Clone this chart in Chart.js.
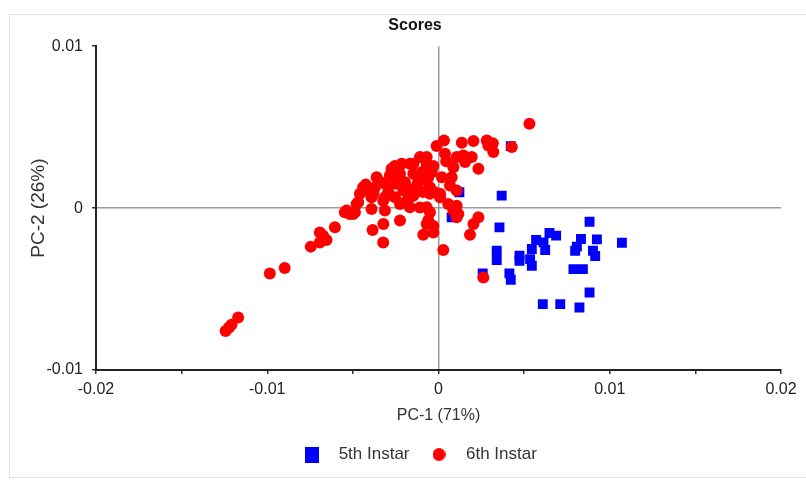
<!DOCTYPE html>
<html>
<head>
<meta charset="utf-8">
<script src="https://cdn.jsdelivr.net/npm/chart.js@4.4.1/dist/chart.umd.min.js"></script>
<style>
  html, body { margin: 0; padding: 0; background: #fff; }
  #wrap { position: relative; width: 806px; height: 481px; overflow: hidden; }
  #frame { position: absolute; left: 9px; top: 14px; width: 820px; height: 462px; border: 1px solid #e4e4e4; }
  canvas { position: absolute; left: 0; top: 0; }
</style>
</head>
<body>
<div id="wrap">
  <div id="frame"></div>
  <canvas id="scores" width="806" height="481"></canvas>
</div>
<script>
// PCA scores
const instar5X = [1.22e-3, 3.69e-3, 0.77e-3, 3.56e-3, 8.82e-3, 6.48e-3, 6.87e-3, 5.70e-3, 8.32e-3, 9.25e-3,
  10.71e-3, 6.13e-3, 6.23e-3, 5.45e-3, 3.40e-3, 3.40e-3, 4.73e-3, 4.73e-3, 5.35e-3, 5.45e-3,
  7.98e-3, 8.08e-3, 9.02e-3, 9.15e-3, 7.88e-3, 8.43e-3, 2.58e-3, 4.14e-3, 4.22e-3, 8.82e-3,
  6.09e-3, 7.11e-3, 8.23e-3, 4.22e-3];
const instar5Y = [0.98e-3, 0.77e-3, -0.57e-3, -1.19e-3, -0.84e-3, -1.54e-3, -1.70e-3, -1.97e-3, -1.91e-3, -1.93e-3,
  -2.14e-3, -2.12e-3, -2.59e-3, -2.53e-3, -2.63e-3, -3.21e-3, -2.94e-3, -3.25e-3, -3.15e-3, -3.56e-3,
  -2.63e-3, -2.38e-3, -2.63e-3, -2.96e-3, -3.77e-3, -3.77e-3, -4.03e-3, -4.03e-3, -4.43e-3, -5.21e-3,
  -5.93e-3, -5.93e-3, -6.14e-3, 3.83e-3];

const instar6X = [-12.43e-3, -12.23e-3, -12.09e-3, -11.70e-3, -9.85e-3, -8.98e-3, -7.46e-3, -6.93e-3, -6.93e-3, -6.54e-3,
  -6.74e-3, -6.05e-3, -5.47e-3, -5.18e-3, -4.98e-3, -5.37e-3, -4.88e-3, -4.78e-3, -4.69e-3, -4.59e-3,
  -4.40e-3, -4.25e-3, -4.01e-3, -3.91e-3, -3.91e-3, -3.71e-3, -3.61e-3, -3.45e-3, -3.13e-3, -3.13e-3,
  -3.13e-3, -2.94e-3, -3.23e-3, -3.22e-3, -3.85e-3, -3.23e-3, -2.84e-3, -2.74e-3, -2.55e-3, -2.54e-3,
  -2.54e-3, -2.25e-3, -2.15e-3, -2.25e-3, -2.25e-3, -2.06e-3, -1.96e-3, -1.67e-3, -1.67e-3, -1.67e-3,
  -1.67e-3, -1.47e-3, -1.47e-3, -1.47e-3, -1.47e-3, -1.08e-3, -1.08e-3, -0.98e-3, -0.69e-3, -0.69e-3,
  -0.69e-3, -0.69e-3, -0.60e-3, -0.40e-3, -0.50e-3, -0.50e-3, -0.20e-3, -0.69e-3, -0.50e-3, -0.60e-3,
  -0.69e-3, -0.30e-3, -0.30e-3, -0.89e-3, -0.11e-3, 0.32e-3, 0.38e-3, 0.09e-3, 0.09e-3, 0.28e-3,
  0.57e-3, 0.67e-3, 0.77e-3, 0.87e-3, 1.06e-3, 1.06e-3, 1.06e-3, 0.87e-3, 1.16e-3, 1.06e-3,
  1.36e-3, 1.45e-3, 1.55e-3, 1.94e-3, 2.04e-3, 2.33e-3, 2.33e-3, 2.04e-3, 1.84e-3, 2.62e-3,
  2.82e-3, 2.91e-3, 3.17e-3, 3.20e-3, 4.28e-3, 5.31e-3,
  -4.20e-3, -3.80e-3, -2.60e-3, -2.40e-3, -1.20e-3, -0.30e-3, -0.90e-3, -1.90e-3, 0.20e-3, 0.45e-3];
const instar6Y = [-7.59e-3, -7.38e-3, -7.21e-3, -6.76e-3, -4.04e-3, -3.70e-3, -2.38e-3, -1.50e-3, -2.12e-3, -1.97e-3,
  -1.70e-3, -1.19e-3, -0.26e-3, -0.36e-3, -0.36e-3, -0.15e-3, -0.26e-3, 0.26e-3, 0.36e-3, 0.88e-3,
  1.29e-3, 1.45e-3, 0.98e-3, 0.67e-3, -0.05e-3, 1.29e-3, 1.91e-3, 1.65e-3, 1.50e-3, 0.67e-3,
  -0.15e-3, 0.98e-3, 0.46e-3, -0.98e-3, -1.35e-3, -2.12e-3, 2.01e-3, 2.43e-3, 2.60e-3, 0.67e-3,
  1.50e-3, 2.12e-3, 2.74e-3, 0.26e-3, -0.77e-3, 1.08e-3, 1.60e-3, 1.08e-3, 0.67e-3, 0.05e-3,
  2.74e-3, 2.74e-3, 2.12e-3, 0.77e-3, 1.19e-3, 3.15e-3, 0.03e-3, 2.22e-3, 3.15e-3, 2.74e-3,
  2.53e-3, 1.70e-3, 1.91e-3, 2.22e-3, 1.29e-3, 0.88e-3, 0.98e-3, 0.05e-3, -0.26e-3, -0.77e-3,
  -0.98e-3, -1.50e-3, -1.10e-3, -1.64e-3, 3.83e-3, 4.18e-3, 3.36e-3, 0.67e-3, 0.88e-3, -2.59e-3,
  0.26e-3, 1.39e-3, 1.91e-3, 2.53e-3, 1.08e-3, 3.15e-3, 0.15e-3, -0.15e-3, -0.36e-3, -0.57e-3,
  4.04e-3, 3.25e-3, 2.84e-3, 3.15e-3, 4.14e-3, 2.43e-3, -0.57e-3, -0.98e-3, -1.64e-3, -4.28e-3,
  4.18e-3, 3.87e-3, 4.01e-3, 3.46e-3, 3.77e-3, 5.21e-3,
  1.10e-3, 0.90e-3, 1.80e-3, 2.20e-3, 1.60e-3, 2.60e-3, 1.00e-3, 0.40e-3, 1.90e-3, 2.90e-3];

const seriesNames = ["5th Instar", "6th Instar"];
const xTickLabels = [-0.02, -0.01, 0, 0.01, 0.02];
const yTickLabels = [-0.01, 0, 0.01];

const FONT = '"Liberation Sans", Arial, sans-serif';

const toPoints = (xs, ys) => xs.map((x, i) => ({ x, y: ys[i] }));
const isLabelled = (list, v) => list.some(t => Math.abs(t - v) < 1e-9);
const fmt = v => String(+v.toFixed(3));

function marker(w, h, paint) {
  const c = document.createElement("canvas");
  c.width = w; c.height = h;
  paint(c.getContext("2d"));
  return c;
}
const legendMarks = [
  marker(14, 16, g => { g.fillStyle = "#0000ff"; g.fillRect(0, 0, 14, 16); }),
  marker(13, 13, g => { g.fillStyle = "#ff0000"; g.beginPath(); g.arc(6.5, 6.5, 6.5, 0, Math.PI * 2); g.fill(); })
];

const zeroGrid = ctx => (ctx.tick && Math.abs(ctx.tick.value) < 1e-12) ? "#9a9a9a" : "rgba(0,0,0,0)";

new Chart(document.getElementById("scores"), {
  type: "scatter",
  data: {
    datasets: [
      {
        label: seriesNames[0],
        data: toPoints(instar5X, instar5Y),
        pointStyle: "rect",
        pointRadius: 7,
        backgroundColor: "#0000ff",
        borderWidth: 0,
        order: 1
      },
      {
        label: seriesNames[1],
        data: toPoints(instar6X, instar6Y),
        pointStyle: "circle",
        pointRadius: 6,
        backgroundColor: "#ff0000",
        borderWidth: 0,
        order: 0
      }
    ]
  },
  options: {
    responsive: false,
    animation: false,
    layout: { padding: { left: 24, right: 0, top: 0, bottom: 8 } },
    plugins: {
      tooltip: { enabled: false },
      title: {
        display: true,
        text: "Scores",
        color: "#111",
        font: { family: FONT, size: 16, weight: "bold" },
        padding: { top: 16, bottom: 11 }
      },
      legend: {
        position: "bottom",
        labels: {
          usePointStyle: true,
          pointStyleWidth: 37,
          padding: 11,
          color: "#333",
          font: { family: FONT, size: 17 },
          sort: (a, b) => a.datasetIndex - b.datasetIndex,
          generateLabels: chart =>
            Chart.defaults.plugins.legend.labels.generateLabels(chart).map(item => {
              item.pointStyle = legendMarks[item.datasetIndex];
              return item;
            })
        }
      }
    },
    scales: {
      x: {
        type: "linear",
        position: "bottom",
        min: -0.02,
        max: 0.02,
        afterFit: s => { s.height = 65; },
        border: { display: true, color: "#222", width: 2 },
        grid: { color: zeroGrid, lineWidth: 1.5, drawTicks: true, tickLength: 4, tickColor: "#333", tickWidth: 1.5 },
        ticks: {
          stepSize: 0.005,
          autoSkip: false,
          maxRotation: 0,
          padding: 6,
          color: "#222",
          font: { family: FONT, size: 16 },
          callback: v => isLabelled(xTickLabels, v) ? fmt(v) : ""
        },
        title: {
          display: true,
          text: "PC-1 (71%)",
          color: "#333",
          font: { family: FONT, size: 16 },
          padding: { top: 0, bottom: 10 }
        }
      },
      y: {
        type: "linear",
        position: "left",
        min: -0.01,
        max: 0.01,
        afterFit: s => { s.width = 72; },
        border: { display: true, color: "#222", width: 2 },
        grid: { color: zeroGrid, lineWidth: 1.5, drawTicks: true, tickLength: 4, tickColor: "#333", tickWidth: 1.5 },
        ticks: {
          stepSize: 0.01,
          padding: 9,
          color: "#222",
          font: { family: FONT, size: 16 },
          callback: v => isLabelled(yTickLabels, v) ? fmt(v) : ""
        },
        title: {
          display: true,
          text: "PC-2 (26%)",
          color: "#333",
          font: { family: FONT, size: 19 },
          padding: { top: 3, bottom: 0 }
        }
      },
      pad: {
        type: "linear",
        position: "right",
        display: true,
        afterFit: s => { s.width = 25; },
        border: { display: false },
        grid: { display: false },
        ticks: { display: false }
      }
    }
  }
});
</script>
</body>
</html>
